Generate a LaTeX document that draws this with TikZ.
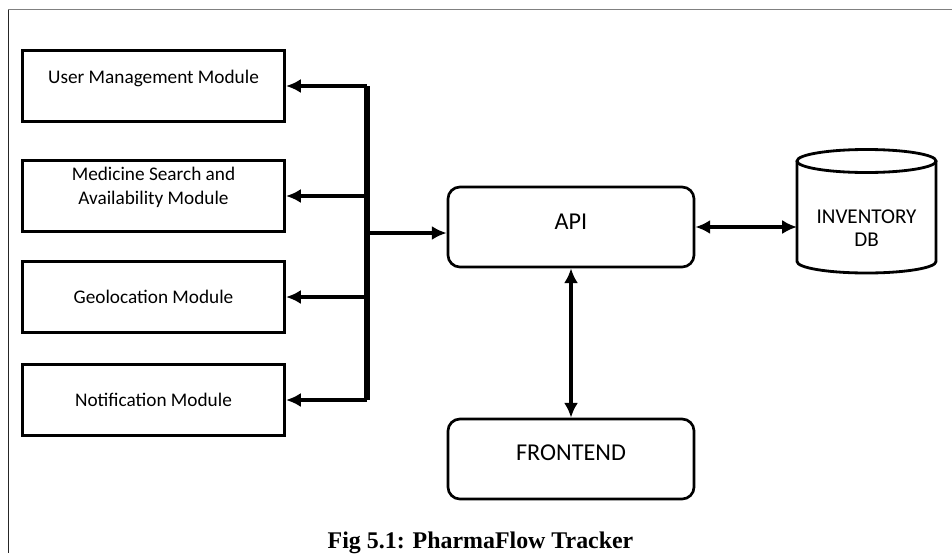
\documentclass[tikz,border=0pt]{standalone}
\usepackage{fontspec}
\setmainfont{Carlito}
\newfontfamily\capfont{Liberation Serif}
\usetikzlibrary{arrows.meta}

\tikzset{
	modbox/.style={draw=black, line width=2.1pt, minimum width=6.55cm, minimum height=1.78cm, inner sep=0pt},
	roundbox/.style={draw=black, line width=1.9pt, rounded corners=0.3cm, minimum width=6.15cm, minimum height=2.0cm, inner sep=0pt},
	modtext/.style={font=\fontsize{13.7}{17}\selectfont, align=center, inner sep=0pt},
	bigtext/.style={font=\fontsize{17.2}{20}\selectfont, inner sep=0pt},
	busline/.style={line width=3.6pt},
	arr/.style={line width=3pt, -{Latex[length=10.5pt,width=10pt]}},
	darr/.style={line width=3pt, {Latex[length=10.5pt,width=10pt]}-{Latex[length=10.5pt,width=10pt]}},
}

\begin{document}
\begin{tikzpicture}[x=0.025cm, y=-0.025cm]
		%%%%% START %%%%%
		\useasboundingbox (0, 0) rectangle (952, 553);
		
		% frame
		\draw[black!50, line width=1.4pt] (8, 9.5) -- (952, 9.5);
		\draw[black!85, line width=1.4pt] (8.5, 9.5) -- (8.5, 553);
		
		% modules
		\node[modbox] (um) at (153.5, 86) {};
		\node[modtext] (umt) at (153.5, 78) {User Management Module};
		
		\node[modbox] (msa) at (153.5, 196) {};
		\node[modtext] (msat) at (153.5, 187) {Medicine Search and\\Availability Module};
		
		\node[modbox] (geo) at (153.5, 297) {};
		\node[modtext] (geot) at (153.5, 296.5) {Geolocation Module};
		
		\node[modbox] (notif) at (153.5, 400) {};
		\node[modtext] (notift) at (153.5, 400) {Notification Module};
		
		% api and frontend
		\node[roundbox] (api) at (571, 227) {};
		\node[bigtext] (apit) at (571, 222) {API};
		
		\node[roundbox] (front) at (571, 459) {};
		\node[bigtext] (frontt) at (571, 453) {FRONTEND};
		
		% inventory db
		\draw[line width=2pt] (866.5, 161) ellipse [x radius=69.5, y radius=11.5];
		\draw[line width=2pt] (797, 161) -- (797, 261.5) arc[start angle=180, end angle=0, x radius=69.5, y radius=11.5] -- (936, 161);
		\coordinate (db) at (797, 227);
		\node[modtext, font=\fontsize{15}{16.5}\selectfont] (dbt) at (866.5, 228.5) {INVENTORY\\DB};
		
		% bus
		\coordinate (bus) at (367, 233);
		\draw[busline] (bus |- um.east) -- (bus |- notif.east);
		\draw[arr] (bus |- um.east) -- (um.east);
		\draw[arr] (bus |- msa.east) -- (msa.east);
		\draw[arr] (bus |- geo.east) -- (geo.east);
		\draw[arr] (bus |- notif.east) -- (notif.east);
		\draw[arr] (bus) -- (api.west |- bus);
		
		\draw[darr] (api.east) -- (db);
		\draw[darr] (api.south) -- (front.north);
		
		\node[anchor=base, font=\capfont\bfseries\fontsize{17}{20}\selectfont, inner sep=0pt] (cap) at (480.5, 548) {Fig 5.1: PharmaFlow Tracker};
		%%%%% END %%%%%
	\end{tikzpicture}
\end{document}
